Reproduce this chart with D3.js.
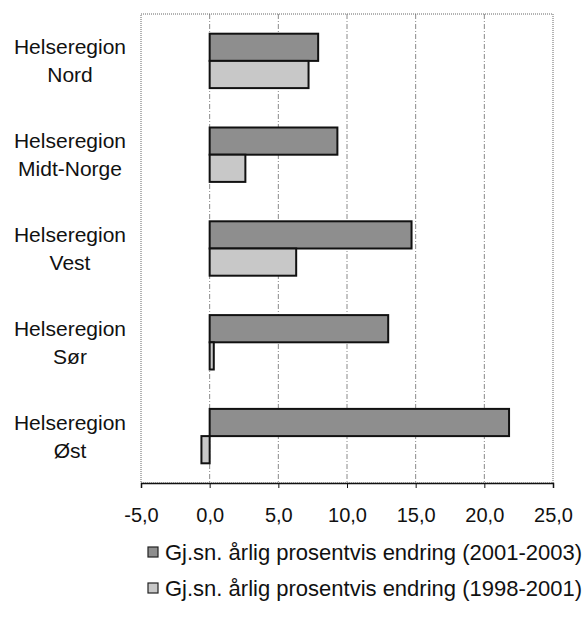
<!DOCTYPE html>
<html><head><meta charset="utf-8">
<script src="https://cdn.jsdelivr.net/npm/d3@7"></script>
<style>body{margin:0;background:#fff}svg{display:block}text{font-family:"Liberation Sans",Arial,sans-serif;fill:#111}</style>
</head><body>
<script>
const categories = [["Helseregion","Nord"],["Helseregion","Midt-Norge"],["Helseregion","Vest"],["Helseregion","Sør"],["Helseregion","Øst"]];
const series2001_2003 = [7.9, 9.3, 14.7, 13.0, 21.8];
const series1998_2001 = [7.2, 2.6, 6.3, 0.3, -0.6];
const seriesNames = ["Gj.sn. årlig prosentvis endring (2001-2003)","Gj.sn. årlig prosentvis endring (1998-2001)"];
const tickValues = [-5,0,5,10,15,20,25];
const tickLabels = ["-5,0","0,0","5,0","10,0","15,0","20,0","25,0"];
const colors = ["#8e8e8e","#c8c8c8"];

const W=585,H=629;
const svg=d3.select("body").append("svg").attr("width",W).attr("height",H);
const mL=141,mR=553,mT=14,mB=483;
const x=d3.scaleLinear().domain([-5,25]).range([mL,mR]);
const y=d3.scaleBand().domain(d3.range(categories.length)).range([mT,mB]).paddingInner(0.42).paddingOuter(0.21);
const y2=d3.scaleBand().domain([0,1]).range([0,y.bandwidth()]);

// gridlines
svg.append("g").selectAll("line").data(tickValues.slice(1,-1)).join("line")
 .attr("x1",d=>x(d)).attr("x2",d=>x(d)).attr("y1",mT).attr("y2",mB)
 .attr("stroke","#8a8a8a").attr("stroke-width",1).attr("stroke-dasharray","5,2,1,2");
// border
svg.append("rect").attr("x",mL).attr("y",mT).attr("width",mR-mL).attr("height",mB-mT)
 .attr("fill","none").attr("stroke","#666").attr("stroke-width",1).attr("stroke-dasharray","1,1");

const data = categories.map((c,i)=>({i, vals:[series2001_2003[i],series1998_2001[i]]}));
const g=svg.append("g").selectAll("g").data(data).join("g").attr("transform",d=>`translate(0,${y(d.i)})`);
g.selectAll("rect").data(d=>d.vals.map((v,k)=>({v,k}))).join("rect")
 .attr("x",d=>x(Math.min(0,d.v))).attr("width",d=>Math.abs(x(d.v)-x(0)))
 .attr("y",d=>y2(d.k)).attr("height",y2.bandwidth())
 .attr("fill",d=>colors[d.k]).attr("stroke","#111").attr("stroke-width",2);

// axis
const ax=svg.append("g").attr("transform",`translate(0,${mB})`)
 .call(d3.axisBottom(x).tickValues(tickValues).tickFormat((d,i)=>tickLabels[i]).tickSize(5).tickPadding(20));
ax.select(".domain").attr("stroke","#111").attr("stroke-width",1.5);
ax.selectAll(".tick line").attr("stroke","#111");
ax.selectAll("text").attr("font-size","20px").attr("font-family","'Liberation Sans',Arial,sans-serif").attr("fill","#111");

// category labels
const lab=svg.append("g").selectAll("text").data(categories).join("text")
 .attr("x",70).attr("text-anchor","middle").attr("font-size","21px")
 .attr("y",(d,i)=>y(i)+y.bandwidth()/2-6.5);
lab.selectAll("tspan").data(d=>d).join("tspan").attr("x",70).attr("dy",(d,j)=>j===0?0:28).text(d=>d);

// legend
const lg=svg.append("g").selectAll("g").data(seriesNames).join("g")
 .attr("transform",(d,i)=>`translate(148,${552+i*36})`);
lg.append("rect").attr("x",0).attr("y",-5).attr("width",10).attr("height",10)
 .attr("fill",(d,i)=>colors[i]).attr("stroke","#222").attr("stroke-width",1.2);
lg.append("text").attr("x",17).attr("y",8).attr("font-size","22px").text(d=>d);
</script>
</body></html>
